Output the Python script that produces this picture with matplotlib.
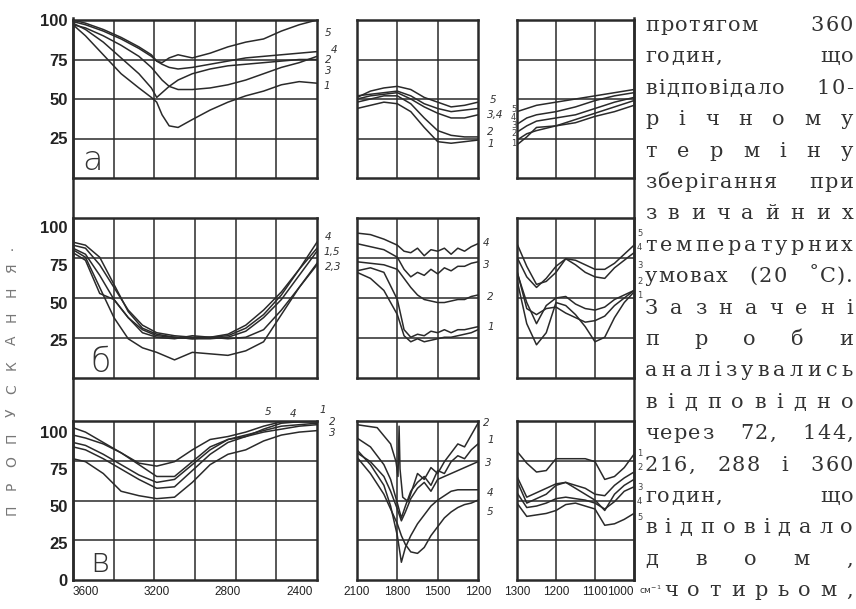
import numpy as np
import matplotlib
matplotlib.use("Agg")
import matplotlib.pyplot as plt
from matplotlib.lines import Line2D
from matplotlib.transforms import ScaledTranslation

# ---------------- data (transmission, %) ----------------
# row а, 3700-2300 cm-1
a1_x = [3670, 3600, 3500, 3400, 3300, 3230, 3200, 3170, 3130, 3080, 3000, 2900, 2800, 2700, 2600, 2500, 2400, 2300]
a1_y1 = [97, 90, 78, 66, 57, 51, 48, 40, 33, 32, 37, 43, 48, 52, 55, 59, 61, 60]
a1_y2 = [97, 95, 90, 84, 77, 70, 66, 62, 58, 56, 56, 57, 59, 62, 66, 70, 73, 77]
a1_y3 = [98, 94, 86, 76, 66, 57, 51, 54, 58, 62, 66, 69, 71, 72, 73, 74, 75, 75]
a1_y4 = [99, 97, 93, 88, 82, 77, 74, 72, 70, 69, 70, 72, 74, 76, 77, 78, 79, 80]
a1_y5 = [100, 98, 94, 89, 83, 78, 74, 73, 76, 78, 76, 79, 83, 86, 88, 93, 97, 100]
# row а, 2100-1200
a2_x = [2100, 2000, 1900, 1800, 1700, 1600, 1500, 1400, 1300, 1200]
a2_y1 = [44, 46, 48, 47, 42, 32, 23, 22, 23, 24]
a2_y2 = [48, 50, 52, 52, 47, 38, 30, 27, 26, 26]
a2_y3 = [50, 52, 53, 54, 50, 45, 41, 38, 38, 40]
a2_y4 = [52, 53, 54, 55, 52, 47, 44, 42, 43, 44]
a2_y5 = [51, 55, 57, 58, 56, 51, 48, 45, 46, 48]
# row а, 1300-1000
a3_x = [1300, 1275, 1250, 1200, 1150, 1100, 1050, 1000]
a3_y1 = [21, 26, 32, 33, 35, 39, 42, 46]
a3_y2 = [24, 28, 30, 33, 37, 41, 45, 49]
a3_y3 = [29, 33, 36, 38, 40, 44, 48, 51]
a3_y4 = [34, 38, 40, 42, 45, 49, 52, 54]
a3_y5 = [42, 44, 46, 48, 50, 52, 54, 56]

# row б
b1_x = [3670, 3600, 3520, 3440, 3360, 3280, 3200, 3100, 3000, 2900, 2800, 2700, 2600, 2500, 2400, 2300]
b1_y1 = [86, 82, 68, 52, 40, 32, 28, 27, 26, 27, 29, 35, 45, 57, 72, 86]
b1_y2 = [83, 78, 56, 52, 40, 30, 27, 26, 28, 27, 26, 27, 32, 45, 60, 76]
b1_y3 = [85, 80, 60, 40, 26, 20, 17, 12, 17, 16, 15, 18, 24, 42, 60, 75]
b1_y4 = [88, 86, 75, 60, 45, 35, 30, 28, 27, 27, 28, 33, 42, 55, 72, 90]
b1_y5 = [90, 88, 80, 62, 44, 33, 29, 27, 26, 26, 27, 31, 40, 52, 68, 84]
b2_x = [2100, 2000, 1900, 1800, 1750, 1700, 1650, 1600, 1550, 1500, 1450, 1400, 1350, 1300, 1250, 1200]
b2_y1 = [71, 73, 70, 52, 32, 27, 29, 28, 31, 30, 32, 30, 32, 32, 33, 34]
b2_y2 = [77, 76, 75, 72, 66, 60, 55, 52, 51, 50, 50, 51, 52, 52, 54, 55]
b2_y3 = [89, 87, 85, 80, 72, 67, 70, 68, 72, 69, 73, 71, 74, 74, 76, 77]
b2_y4 = [96, 95, 92, 88, 84, 83, 86, 81, 85, 84, 86, 82, 86, 84, 87, 89]
b2_y5 = [70, 66, 58, 42, 28, 24, 26, 24, 25, 26, 27, 27, 28, 29, 30, 32]
b3_x = [1300, 1275, 1250, 1225, 1200, 1175, 1150, 1125, 1100, 1075, 1050, 1025, 1000]
b3_y1 = [65, 36, 22, 30, 50, 48, 42, 34, 24, 27, 40, 50, 57]
b3_y2 = [71, 46, 42, 46, 47, 43, 40, 37, 38, 41, 48, 53, 58]
b3_y3 = [70, 50, 36, 48, 53, 54, 49, 46, 45, 47, 52, 55, 58]
b3_y4 = [80, 67, 60, 66, 74, 79, 75, 70, 67, 66, 73, 78, 83]
b3_y5 = [89, 74, 62, 64, 70, 79, 78, 75, 72, 72, 76, 82, 88]

# row в
c1_x = [3670, 3600, 3500, 3400, 3300, 3200, 3100, 3000, 2900, 2800, 2700, 2600, 2500, 2400, 2300]
c1_y1 = [93, 91, 85, 78, 71, 66, 68, 78, 88, 95, 98, 101, 104, 105, 106]
c1_y2 = [90, 88, 82, 75, 68, 62, 63, 74, 85, 93, 97, 100, 102, 104, 105]
c1_y3 = [82, 80, 72, 60, 57, 55, 56, 66, 78, 85, 88, 94, 98, 100, 101]
c1_y4 = [103, 100, 93, 86, 79, 77, 80, 88, 95, 97, 100, 104, 107, 107, 107]
c1_y5 = [98, 96, 92, 86, 78, 70, 70, 80, 90, 95, 97, 102, 106, 107, 107]
c2_x = [2100, 2000, 1900, 1850, 1800, 1770, 1740, 1700, 1650, 1600, 1550, 1500, 1450, 1400, 1350, 1300, 1250, 1200]
c2_y1 = [96, 90, 78, 68, 52, 42, 50, 60, 66, 70, 64, 74, 72, 80, 84, 82, 88, 92]
c2_y3 = [86, 80, 70, 60, 48, 40, 46, 55, 62, 66, 60, 68, 70, 72, 74, 76, 78, 80]
c2_y4 = [88, 78, 64, 50, 30, 12, 22, 30, 38, 44, 50, 54, 57, 60, 61, 61, 61, 61]
c2_y5 = [83, 72, 58, 48, 38, 30, 24, 19, 18, 22, 30, 36, 42, 46, 49, 51, 52, 54]
c2b_x = [2100, 1950, 1850, 1810, 1795, 1787, 1780, 1760, 1720, 1650, 1600, 1550, 1500, 1450, 1400, 1350, 1300, 1250, 1200]
c2_y2 = [105, 103, 92, 80, 70, 104, 75, 56, 53, 72, 68, 76, 72, 80, 86, 92, 90, 98, 106]
c3_x = [1300, 1275, 1250, 1225, 1200, 1175, 1150, 1125, 1100, 1075, 1050, 1025, 1000]
c3_y1 = [87, 79, 73, 74, 82, 82, 82, 82, 80, 68, 70, 76, 85]
c3_y2 = [70, 56, 59, 62, 65, 66, 64, 62, 58, 57, 64, 69, 73]
c3_y3 = [67, 52, 55, 58, 64, 66, 62, 58, 54, 47, 58, 64, 68]
c3_y4 = [59, 49, 50, 52, 55, 56, 55, 54, 52, 48, 53, 60, 63]
c3_y5 = [52, 43, 44, 45, 47, 51, 52, 50, 48, 37, 38, 41, 45]

x_ticks = [[3600, 3200, 2800, 2400], [2100, 1800, 1500, 1200], [1300, 1200, 1100, 1000]]
y_ticks = [[25, 50, 75, 100], [25, 50, 75, 100], [0, 25, 50, 75, 100]]
panel_letters = ["а", "б", "в"]
y_title = "ПРОПУСКАННЯ"

body_text = [
    "протягом 360", "годин, що", "відповідало 10-", "р і ч н о м у",
    "т е р м і н у", "зберігання при", "з в и ч а й н и х", "температурних",
    "умовах (20 ˚С).", "З а з н а ч е н і", "п р о б и", "аналізувались",
    "в і д п о в і д н о", "через 72, 144,", "216, 288 і 360", "годин, що",
    "відповідало", "д в о м ,", "чотирьом,",
]

panels = {
    (0, 0): (a1_x, [a1_y1, a1_y2, a1_y3, a1_y4, a1_y5]),
    (0, 1): (a2_x, [a2_y1, a2_y2, a2_y3, a2_y4, a2_y5]),
    (0, 2): (a3_x, [a3_y1, a3_y2, a3_y3, a3_y4, a3_y5]),
    (1, 0): (b1_x, [b1_y1, b1_y2, b1_y3, b1_y4, b1_y5]),
    (1, 1): (b2_x, [b2_y1, b2_y2, b2_y3, b2_y4, b2_y5]),
    (1, 2): (b3_x, [b3_y1, b3_y2, b3_y3, b3_y4, b3_y5]),
    (2, 0): (c1_x, [c1_y1, c1_y2, c1_y3, c1_y4, c1_y5]),
    (2, 1): (c2_x, [c2_y1, c2_y3, c2_y4, c2_y5]),
    (2, 2): (c3_x, [c3_y1, c3_y2, c3_y3, c3_y4, c3_y5]),
}

# ---------------- layout ----------------
W, H = 856, 609
ink = "#2a2a2a"
fig = plt.figure(figsize=(W / 100, H / 100), dpi=100)
fig.patch.set_facecolor("white")

col_px = [(73, 317), (357, 478), (517, 634)]
row_px = [(20, 178), (218, 378), (421, 580)]
col_xlim = [(3670, 2300), (2100, 1200), (1300, 1000)]
row_ytop = [100, 106, 107.5]
col_vgrid = [np.linspace(3670, 2300, 7)[1:-1], [1800, 1500], [1200, 1100]]

for r in range(3):
    for c in range(3):
        x0, x1 = col_px[c]
        y0, y1 = row_px[r]
        ax = fig.add_axes([x0 / W, 1 - y1 / H, (x1 - x0) / W, (y1 - y0) / H])
        ax.set_xlim(*col_xlim[c])
        top = row_ytop[r]
        ax.set_ylim(0, top)
        for v in col_vgrid[c]:
            ax.axvline(v, color=ink, lw=1.1)
        for k in (1, 2, 3):
            ax.axhline(top * k / 4, color=ink, lw=1.1)
        xs, ys = panels[(r, c)]
        for y in ys:
            ax.plot(xs, y, color=ink, lw=1.1)
        if (r, c) == (2, 1):
            ax.plot(c2b_x, c2_y2, color=ink, lw=1.1)
        for s in ax.spines.values():
            s.set_linewidth(1.8)
            s.set_color(ink)
        ax.tick_params(length=0)
        if c == 0:
            ax.set_yticks(y_ticks[r])
            ax.set_yticklabels([str(t) for t in y_ticks[r]], fontsize=12,
                               fontweight="bold", family="Liberation Sans", color="#222")
            ax.tick_params(axis="y", pad=4)
        else:
            ax.set_yticks([])
        if r == 2:
            ax.set_xticks(x_ticks[c])
            labels = ax.set_xticklabels([str(t) for t in x_ticks[c]], fontsize=8.5,
                                        family="Liberation Sans", color="#222")
            if c == 2:
                labels[-1].set_ha("right")
                labels[-1].set_transform(labels[-1].get_transform()
                                         + ScaledTranslation(3 / 100, 0, fig.dpi_scale_trans))
            ax.tick_params(axis="x", pad=4)
        else:
            ax.set_xticks([])

# continuous frame lines
for xv in (73, 634):
    fig.add_artist(Line2D([xv / W, xv / W], [1 - 18 / H, 1 - 580 / H],
                          transform=fig.transFigure, color=ink, lw=1.8))

fig.text(639 / W, 1 - 590 / H, "см$^{-1}$", fontsize=6.5, color="#333",
         ha="left", va="center")

# panel letters
for (lx, ly), letter in zip([(82, 160), (90, 362), (90, 562)], panel_letters):
    fig.text(lx / W, 1 - ly / H, letter, fontsize=24, color="#333",
             ha="left", va="center", family="DejaVu Sans", fontweight="light")

# curve number labels
big_labels = [
    (325, 33, "5"), (331, 50, "4"), (325, 60, "2"), (325, 71, "3"), (323, 86, "1"),
    (490, 100, "5"), (487, 115, "3,4"), (487, 132, "2"), (487, 144, "1"),
    (325, 237, "4"), (324, 252, "1,5"), (325, 267, "2,3"),
    (483, 243, "4"), (483, 265, "3"), (487, 297, "2"), (487, 327, "1"),
    (265, 412, "5"), (290, 414, "4"), (320, 410, "1"), (329, 422, "2"), (329, 433, "3"),
    (483, 423, "2"), (487, 440, "1"), (485, 463, "3"), (487, 493, "4"), (487, 512, "5"),
]
small_labels = [
    (511, 110, "5"), (511, 118, "4"), (511, 126, "3"), (511, 134, "2"), (511, 143, "1"),
    (637, 233, "5"), (637, 248, "4"), (637, 265, "3"), (637, 282, "2"), (637, 295, "1"),
    (637, 453, "1"), (637, 468, "2"), (637, 487, "3"), (637, 502, "4"), (637, 517, "5"),
]
for lx, ly, s in big_labels:
    fig.text(lx / W, 1 - ly / H, s, fontsize=7.5, style="italic", color="#333",
             ha="left", va="center")
for lx, ly, s in small_labels:
    fig.text(lx / W, 1 - ly / H, s, fontsize=6, color="#444",
             ha="left", va="center")

# vertical axis title, letter-spaced
for i, ch in enumerate(y_title):
    py = 510 - i * 24.2
    fig.text(12 / W, 1 - py / H, ch, fontsize=10, color="#777", rotation=90,
             ha="center", va="center", family="DejaVu Sans")
fig.text(12 / W, 1 - 247 / H, ".", fontsize=10, color="#777", ha="center", va="center")

# justified body text on the right
renderer = fig.canvas.get_renderer()
fs = 15
fam = "DejaVu Serif"
_cache = {}


def char_w(ch):
    if ch not in _cache:
        t = fig.text(0, 0, ch, fontsize=fs, family=fam)
        _cache[ch] = t.get_window_extent(renderer).width
        t.remove()
    return _cache[ch]


R = 853
for i, line in enumerate(body_text):
    L = 664 if i == len(body_text) - 1 else 645
    py = 25 + i * 31.4
    words = line.split(" ")
    track = 1.2
    if len(words) == 1:
        chars = list(words[0])
        total = sum(char_w(ch) for ch in chars)
        track = (R - L - total) / (len(chars) - 1)
        gap = 0
    else:
        inner = sum(sum(char_w(ch) for ch in w) + track * (len(w) - 1) for w in words)
        gap = (R - L - inner) / (len(words) - 1)
    x = L
    for wi, w in enumerate(words):
        for ci, ch in enumerate(w):
            fig.text(x / W, 1 - (py + 6) / H, ch, fontsize=fs, family=fam,
                     color="#333", ha="left", va="baseline")
            x += char_w(ch) + (track if ci < len(w) - 1 else 0)
        x += gap

fig.savefig("out.png", dpi=100, facecolor="white")
